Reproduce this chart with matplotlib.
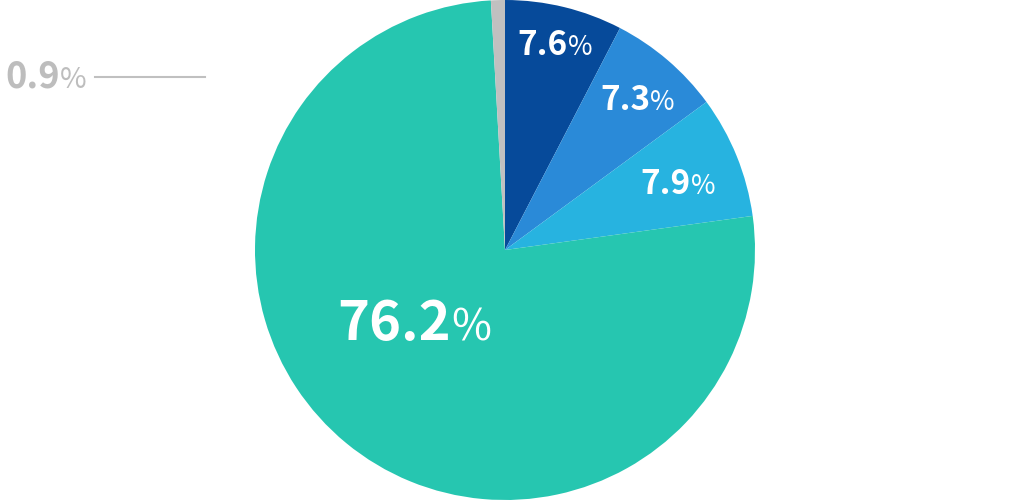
import matplotlib
matplotlib.use("Agg")
import numpy as np
import matplotlib.pyplot as plt
from matplotlib.offsetbox import TextArea, HPacker, AnnotationBbox

plt.rcParams["font.family"] = ["Noto Sans CJK JP", "DejaVu Sans"]

# data
labels = ["7.6", "7.3", "7.9", "76.2", "0.9"]
values = [7.6, 7.3, 7.9, 76.2, 0.9]
colors = ["#064a9a", "#2a8ad8", "#27b3e0", "#26c6b0", "#c0c0c0"]

fig = plt.figure(figsize=(10.1, 5), dpi=100)
ax = fig.add_axes([0, 0, 1, 1])

wedges, _ = ax.pie(values, colors=colors, startangle=90, counterclock=False,
                   radius=1.0, center=(0, 0), frame=True,
                   wedgeprops=dict(linewidth=0))
ax.axis("off")
ax.set_aspect("equal")
ax.set_xlim(-2.02, 2.02)
ax.set_ylim(-1, 1)


def pct_label(x, y, num, size, color, align=(0.5, 0.5)):
    a = TextArea(num, textprops=dict(fontsize=size, fontweight="bold", color=color))
    b = TextArea("%", textprops=dict(fontsize=size * 0.8, color=color))
    box = HPacker(children=[a, b], align="baseline", pad=0, sep=0)
    ab = AnnotationBbox(box, (x, y), xycoords="data", frameon=False,
                        box_alignment=align, pad=0)
    ax.add_artist(ab)


# label radius (fraction) and angle shift per slice
label_r = [0.84, 0.80, 0.74, 0.47, None]
label_shift = [0, -1, -1.5, -11, 0]
sizes = [24, 24, 24, 39, 26]

for w, lab, r, sh, fs in zip(wedges, labels, label_r, label_shift, sizes):
    if r is None:
        continue
    ang = np.deg2rad((w.theta1 + w.theta2) / 2 + sh)
    pct_label(r * np.cos(ang), r * np.sin(ang), lab, fs, "white")

# small grey slice labelled outside with a leader line
ly = 0.692
ax.plot([-1.64, -1.2], [ly, ly], color="#c0c0c0", linewidth=1.5)
pct_label(-1.675, ly, labels[4], sizes[4], "#bdbdbd", align=(1, 0.5))

fig.savefig("out.png", dpi=100)
